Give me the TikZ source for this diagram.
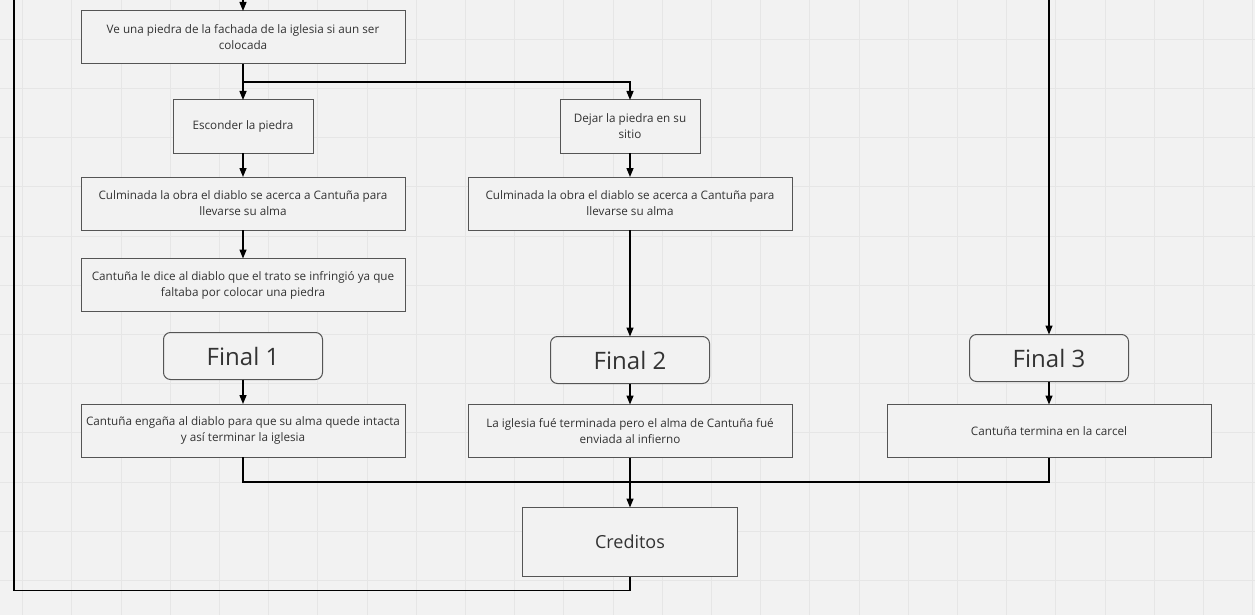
\documentclass[tikz,border=0pt]{standalone}
\usepackage{fontspec}
\setmainfont{Open Sans}
\usepackage{tikz}
\usetikzlibrary{positioning,arrows.meta}
\definecolor{paper}{HTML}{F2F2F2}
\definecolor{gridgray}{HTML}{E6E6E6}
\definecolor{boxgray}{HTML}{555555}
\definecolor{ink}{HTML}{333333}

\tikzset{
  paso/.style={draw=boxgray, line width=1pt, fill=paper, text=ink, align=center,
    minimum width=324pt, minimum height=53pt, inner sep=0pt, outer sep=0pt,
    font=\fontsize{11.7}{16}\selectfont},
  corto/.style={paso, minimum width=140pt},
  final/.style={draw=boxgray, line width=1pt, fill=paper, text=ink, rounded corners=7pt,
    minimum width=159pt, minimum height=47pt, inner sep=0pt, outer sep=0pt,
    font=\fontsize{24}{28}\selectfont},
  flecha/.style={line width=1.4pt, -{Triangle[length=9pt,width=7pt]}},
  linea/.style={line width=1.4pt},
  rejilla/.style={gridgray, line width=1pt}
}

\begin{document}
\begin{tikzpicture}[x=1pt, y=-1pt]
      % Background and grid
      \fill[paper] (0,0) rectangle (1255,615);
      \useasboundingbox (0,0) rectangle (1255,615);
      \foreach \gx in {0,...,25} \draw[rejilla] ({22.7+49.2*\gx},0) -- ++(0,615);
      \foreach \gy in {0,...,11} \draw[rejilla] (0,{39.3+49.2*\gy}) -- ++(1255,0);

      % Define nodes
      \node[paso] (ve) at (243,37.5) {Ve una piedra de la fachada de la iglesia si aun ser\\colocada};
      \node[corto, below=36pt of ve] (esconder) {Esconder la piedra};
      \node[corto, right=247pt of esconder] (dejar) {Dejar la piedra en su\\sitio};
      \node[paso, below=24pt of esconder] (culm1) {Culminada la obra el diablo se acerca a Cantuña para\\llevarse su alma};
      \node[paso, below=24pt of dejar] (culm2) {Culminada la obra el diablo se acerca a Cantuña para\\llevarse su alma};
      \node[paso, below=28.5pt of culm1] (dice) {Cantuña le dice al diablo que el trato se infringió ya que\\faltaba por colocar una piedra};
      \node[final, below=21pt of dice] (fin1) {Final 1};
      \node[final, below=106.5pt of culm2] (fin2) {Final 2};
      \node[final, right=260pt of fin2, yshift=2pt] (fin3) {Final 3};
      \node[paso, below=24.5pt of fin1] (engana) {Cantuña engaña al diablo para que su alma quede intacta\\y así terminar la iglesia};
      \node[paso, below=21pt of fin2] (iglesia) {La iglesia fué terminada pero el alma de Cantuña fué\\enviada al infierno};
      \node[paso, below=23pt of fin3] (carcel) {Cantuña termina en la carcel};
      \node[paso, minimum width=215pt, minimum height=69pt, below=50pt of iglesia,
        font=\fontsize{18}{22}\selectfont] (creditos) {Creditos};
      \coordinate (entrada1) at (243,0);
      \coordinate (entrada3) at (1049,0);
      \coordinate (regreso) at (14,0);

      % Connectors
      \draw[flecha] (entrada1) -- (ve);
      \draw[flecha] (ve) -- (esconder);
      \draw[flecha] (ve.south) -- ++(0,18) -| (dejar);
      \draw[flecha] (esconder) -- (culm1);
      \draw[flecha] (culm1) -- (dice);
      \draw[flecha] (dejar) -- (culm2);
      \draw[flecha] (culm2) -- (fin2);
      \draw[flecha] (entrada3) -- (fin3);
      \draw[flecha] (fin1) -- (engana);
      \draw[flecha] (fin2) -- (iglesia);
      \draw[flecha] (fin3) -- (carcel);
      \draw[linea] (engana.south) -- ++(0,25) -| (carcel.south);
      \draw[flecha] (iglesia) -- (creditos);
      \draw[linea] (creditos.south) -- ++(0,14) -| (regreso);
\end{tikzpicture}
\end{document}
